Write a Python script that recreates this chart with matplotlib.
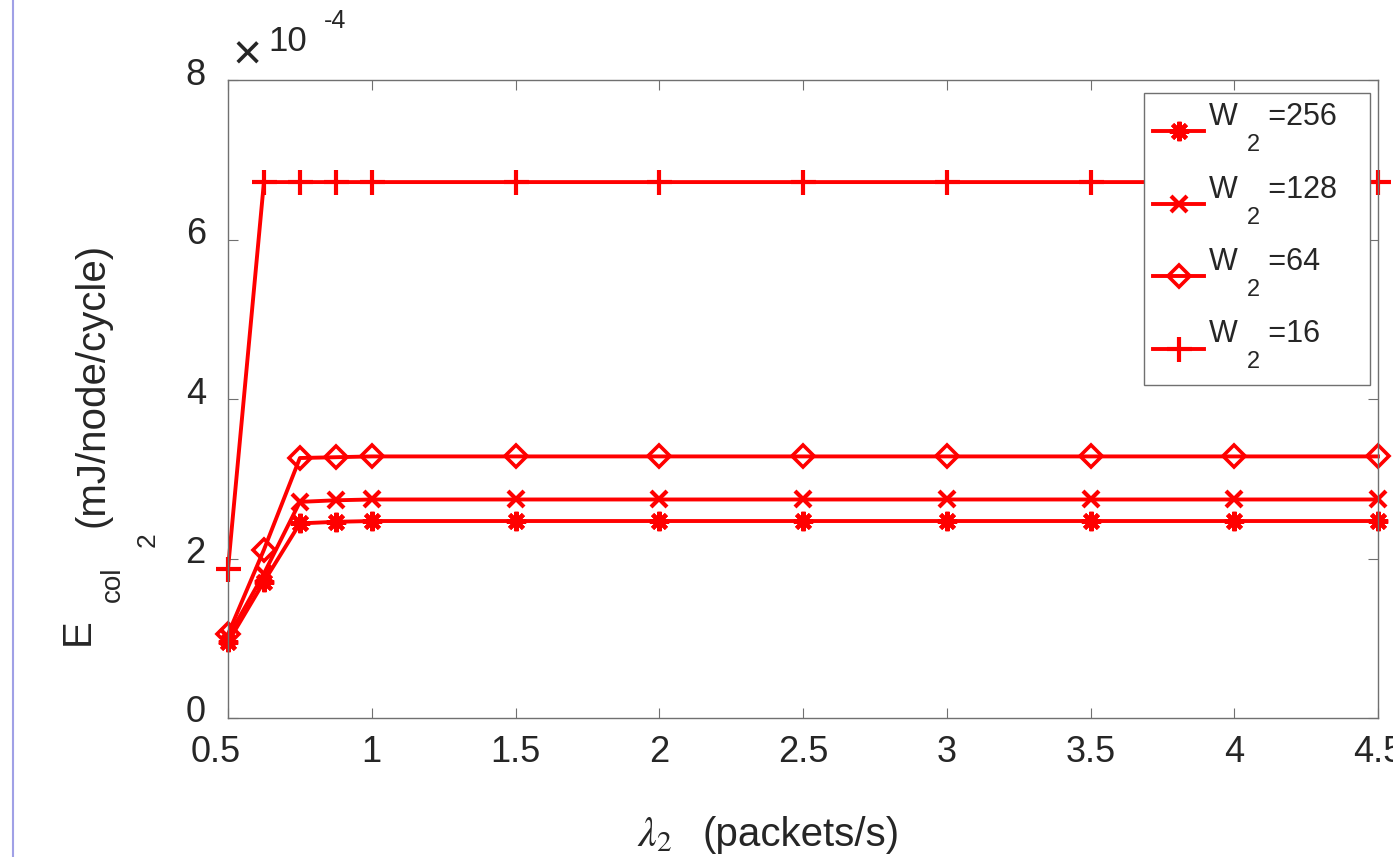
import matplotlib
matplotlib.use('Agg')
import matplotlib.pyplot as plt
from matplotlib.transforms import Affine2D, IdentityTransform
from matplotlib.lines import Line2D

plt.rcParams['font.family'] = ['Liberation Sans', 'DejaVu Sans']

# ---------------- data (values in units of 1e-4 mJ/node/cycle) ----------------
lam = [0.5, 0.625, 0.75, 0.875, 1.0, 1.5, 2.0, 2.5, 3.0, 3.5, 4.0, 4.5]
e_w256 = [0.95, 1.71, 2.44, 2.46, 2.47, 2.47, 2.47, 2.47, 2.47, 2.47, 2.47, 2.47]
e_w128 = [1.01, 1.81, 2.71, 2.73, 2.74, 2.74, 2.74, 2.74, 2.74, 2.74, 2.74, 2.74]
e_w64 = [1.05, 2.11, 3.26, 3.27, 3.28, 3.28, 3.28, 3.28, 3.28, 3.28, 3.28, 3.28]
e_w16 = [1.87, 6.72, 6.72, 6.72, 6.72, 6.72, 6.72, 6.72, 6.72, 6.72, 6.72, 6.72]
w_values = ['256', '128', '64', '16']
x_ticks = [0.5, 1, 1.5, 2, 2.5, 3, 3.5, 4, 4.5]
x_tick_labels = ['0.5', '1', '1.5', '2', '2.5', '3', '3.5', '4', '4.5']
y_ticks = [0, 2, 4, 6, 8]
y_tick_labels = ['0', '2', '4', '6', '8']

W, H = 1393, 857
fig = plt.figure(figsize=(W / 100, H / 100), dpi=100)


def fx(px):
    return px / W


def fy(py):
    return 1 - py / H


ax = fig.add_axes([fx(228), fy(718), (1378 - 228) / W, (718 - 80) / H])

red = '#ff0000'
series = [
    (e_w256, dict(marker=(8, 2, 0), ms=14, mew=3.0)),
    (e_w128, dict(marker='x', ms=11.5, mew=3.0)),
    (e_w64, dict(marker='D', ms=11.5, mew=2.6, mfc='none')),
    (e_w16, dict(marker='+', ms=18, mew=3.0)),
]
handles = []
for vals, st in series:
    h, = ax.plot(lam, vals, color=red, lw=2.8, mec=red, clip_on=False, **st)
    handles.append(h)

ax.set_xlim(0.5, 4.5)
ax.set_ylim(0, 8)
ax.set_xticks(x_ticks)
ax.set_xticklabels(x_tick_labels)
ax.set_yticks(y_ticks)
ax.set_yticklabels(y_tick_labels)

axcol = '#707070'
for s in ax.spines.values():
    s.set_color(axcol)
    s.set_linewidth(1.0)
ax.tick_params(direction='in', length=7.5, width=0.8, color=axcol,
               top=True, right=True, labelsize=26, labelcolor='#262626')
ax.tick_params(axis='x', pad=12)
ax.tick_params(axis='y', pad=16)

# shift tick labels like the reference rendering
for t in ax.yaxis.get_major_ticks():
    t.label1.set_transform(t.label1.get_transform() + Affine2D().translate(0, 9))
xt = ax.xaxis.get_major_ticks()
xt[0].label1.set_transform(xt[0].label1.get_transform() + Affine2D().translate(-12, 0))

# exponent label
fig.text(fx(247), fy(57), '\u00d7', fontsize=36, ha='center', va='center', color='#262626')
fig.text(fx(268), fy(51), '10', fontsize=25, ha='left', va='baseline', color='#262626')
fig.text(fx(324), fy(28), '-4', fontsize=18, ha='left', va='baseline', color='#262626')

# y label pieces
yl = dict(rotation=90, rotation_mode='anchor', ha='left', va='baseline', color='#262626')
fig.text(fx(89), fy(645), 'E', fontsize=29, **yl)
fig.text(fx(120), fy(602), 'col', fontsize=20, **yl)
fig.text(fx(155), fy(547), '2', fontsize=19, **yl)
fig.text(fx(104), fy(527), '(mJ/node/cycle)', fontsize=29, **yl)

# x label pieces
fig.text(fx(637), fy(846), r'$\lambda_2$', fontsize=30, math_fontfamily='stix',
         ha='left', va='baseline', color='#262626')
fig.text(fx(703), fy(846), '(packets/s)', fontsize=29, ha='left', va='baseline', color='#262626')

# legend
labels = ['W\u2002\u2002=' + w + ' \u2002\n ' for w in w_values]
leg = ax.legend(handles, labels, loc='upper left',
                bbox_to_anchor=(fx(1144), fy(93)), bbox_transform=fig.transFigure,
                borderaxespad=0, fontsize=22, handlelength=1.67, handletextpad=0.16,
                borderpad=0.3, labelspacing=0.52, fancybox=False, framealpha=1,
                edgecolor=axcol)
leg.get_frame().set_linewidth(1.0)
for t in leg.get_texts():
    t.set_linespacing(0.85)
    t.set_color('#262626')

# left border line
fig.add_artist(Line2D([fx(13), fx(13)], [0, 1], transform=fig.transFigure,
                      color='#a0a0e6', lw=1.5))

fig.canvas.draw()
r = fig.canvas.get_renderer()
for t in leg.get_texts():
    bb = t.get_window_extent(r)
    fig.text(bb.x0 + 38, bb.y1 - 49, '2', fontsize=17, ha='left', va='baseline',
             transform=IdentityTransform(), color='#262626')

fig.savefig('out.png', dpi=100)
